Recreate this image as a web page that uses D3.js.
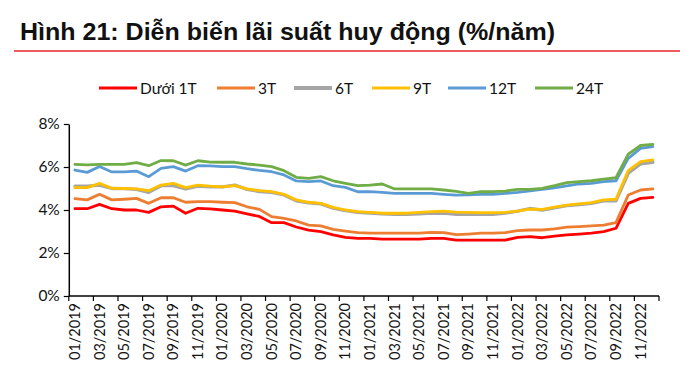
<!DOCTYPE html>
<html><head><meta charset="utf-8">
<script src="https://cdn.jsdelivr.net/npm/d3@7"></script>
<style>
body{margin:0;background:#fff;}
svg{display:block;}
</style></head>
<body><svg id="c" width="700" height="376"></svg>
<script>
const months = [];
for (let yr = 2019; yr <= 2022; yr++) for (let m = 1; m <= 12; m++) months.push(String(m).padStart(2,"0") + "/" + yr);

const seriesNames = ["Dưới 1T","3T","6T","9T","12T","24T"];
const seriesColors = ["#FF0000","#ED7D31","#A5A5A5","#FFC000","#5B9BD5","#70AD47"];
const yTicks = [0,2,4,6,8];

const under1T = [4.06,4.06,4.26,4.06,4.00,4.00,3.89,4.15,4.18,3.85,4.08,4.05,4.00,3.95,3.82,3.70,3.41,3.41,3.21,3.06,2.99,2.84,2.73,2.68,2.68,2.65,2.65,2.65,2.65,2.68,2.68,2.60,2.60,2.60,2.60,2.60,2.73,2.76,2.71,2.78,2.84,2.88,2.92,2.99,3.15,4.31,4.54,4.59];
const m3 = [4.53,4.47,4.73,4.47,4.50,4.54,4.31,4.57,4.57,4.36,4.39,4.39,4.36,4.34,4.15,4.03,3.69,3.61,3.49,3.30,3.26,3.10,3.02,2.95,2.92,2.92,2.92,2.92,2.92,2.96,2.95,2.85,2.88,2.92,2.92,2.95,3.04,3.07,3.07,3.12,3.20,3.23,3.26,3.30,3.41,4.70,4.93,4.98];
const m6 = [5.11,5.11,5.16,5.00,4.99,4.96,4.82,5.13,5.13,4.98,5.11,5.08,5.08,5.16,4.96,4.86,4.82,4.70,4.43,4.33,4.28,4.09,3.97,3.89,3.85,3.82,3.80,3.80,3.82,3.85,3.85,3.80,3.80,3.80,3.80,3.85,3.95,4.07,3.99,4.10,4.20,4.25,4.31,4.42,4.43,5.71,6.14,6.22];
const m9 = [5.04,5.04,5.24,5.01,5.00,4.98,4.90,5.16,5.24,5.04,5.16,5.11,5.08,5.13,4.98,4.90,4.85,4.73,4.47,4.36,4.31,4.12,4.00,3.92,3.89,3.85,3.85,3.85,3.89,3.92,3.95,3.90,3.89,3.88,3.88,3.89,3.95,4.04,4.03,4.13,4.23,4.28,4.34,4.47,4.50,5.83,6.25,6.33];
const m12 = [5.86,5.75,6.02,5.77,5.77,5.81,5.55,5.94,6.02,5.81,6.06,6.05,6.02,6.02,5.92,5.84,5.78,5.63,5.35,5.32,5.35,5.13,5.05,4.85,4.85,4.82,4.77,4.77,4.77,4.77,4.73,4.69,4.70,4.73,4.73,4.77,4.82,4.89,4.96,5.03,5.12,5.21,5.24,5.32,5.36,6.40,6.87,6.95];
const m24 = [6.12,6.10,6.12,6.12,6.12,6.20,6.06,6.30,6.29,6.09,6.29,6.23,6.22,6.22,6.14,6.09,6.02,5.83,5.52,5.47,5.55,5.36,5.24,5.13,5.16,5.21,4.98,4.98,4.98,4.98,4.93,4.87,4.77,4.85,4.85,4.88,4.96,4.96,5.01,5.13,5.27,5.32,5.36,5.44,5.50,6.60,7.00,7.05];
const seriesValues = [under1T, m3, m6, m9, m12, m24];

const svg = d3.select("#c");
const font = "Lato, 'Noto Sans', sans-serif";

// Title
svg.append("text").attr("x", 20).attr("y", 40)
  .attr("font-family", "'Liberation Sans Narrow', 'Liberation Sans', sans-serif")
  .attr("font-weight", "bold").attr("font-size", 24).attr("fill", "#111")
  .attr("textLength", 535).attr("lengthAdjust", "spacingAndGlyphs")
  .text("Hình 21: Diễn biến lãi suất huy động (%/năm)");
svg.append("line").attr("x1", 14).attr("x2", 680).attr("y1", 51).attr("y2", 51)
  .attr("stroke", "#E8262C").attr("stroke-width", 1.5);

const x = d3.scaleBand().domain(months).range([68.8, 659]).paddingInner(0).paddingOuter(0);
const y = d3.scaleLinear().domain([0, 8]).range([296, 124]);
const cx = d => x(d) + x.bandwidth() / 2;

// Lines
const line = d3.line().x((d, i) => cx(months[i])).y(d => y(d));
seriesValues.forEach((vals, k) => {
  svg.append("path").datum(vals).attr("d", line)
    .attr("fill", "none").attr("stroke", seriesColors[k])
    .attr("stroke-width", k === 2 ? 3.3 : 2.8)
    .attr("stroke-linejoin", "round").attr("stroke-linecap", "round");
});

// Y axis
const yAxis = svg.append("g").attr("transform", "translate(68.8,0)")
  .call(d3.axisLeft(y).tickValues(yTicks).tickFormat(d => d + "%").tickSize(5).tickSizeOuter(0));
yAxis.select(".domain").attr("stroke", "#000").attr("stroke-width", 1.5);
yAxis.selectAll(".tick line").attr("stroke", "#000").attr("stroke-width", 1.2);
yAxis.selectAll(".tick text").attr("font-family", font).attr("font-size", 15.5).attr("fill", "#111").attr("x", -9);

// X axis
const xg = svg.append("g");
xg.append("line").attr("x1", 68.8).attr("x2", 659).attr("y1", 296).attr("y2", 296)
  .attr("stroke", "#000").attr("stroke-width", 1.5);
const tickCats = months.filter((d, i) => i % 2 === 0);
const tickXs = tickCats.map(d => x(d)).concat([x.range()[1]]);
xg.selectAll("line.t").data(tickXs).join("line").attr("class", "t")
  .attr("x1", d => d).attr("x2", d => d).attr("y1", 296).attr("y2", 301)
  .attr("stroke", "#000").attr("stroke-width", 1.2);
xg.selectAll("text").data(tickCats).join("text")
  .attr("transform", d => `translate(${cx(d) + 5},303) rotate(-90)`)
  .attr("text-anchor", "end").attr("font-family", font).attr("font-size", 14.5).attr("fill", "#111")
  .text(d => d);

// Legend
const legendX = [99, 217, 294, 372, 448, 535];
const lg = svg.append("g");
seriesNames.forEach((n, k) => {
  lg.append("line").attr("x1", legendX[k]).attr("x2", legendX[k] + 38).attr("y1", 88).attr("y2", 88)
    .attr("stroke", seriesColors[k]).attr("stroke-width", k === 2 ? 4 : 2.8);
  lg.append("text").attr("x", legendX[k] + 41).attr("y", 93.5).attr("font-family", font)
    .attr("font-size", 15.5).attr("fill", "#111").text(n);
});
</script></body></html>
